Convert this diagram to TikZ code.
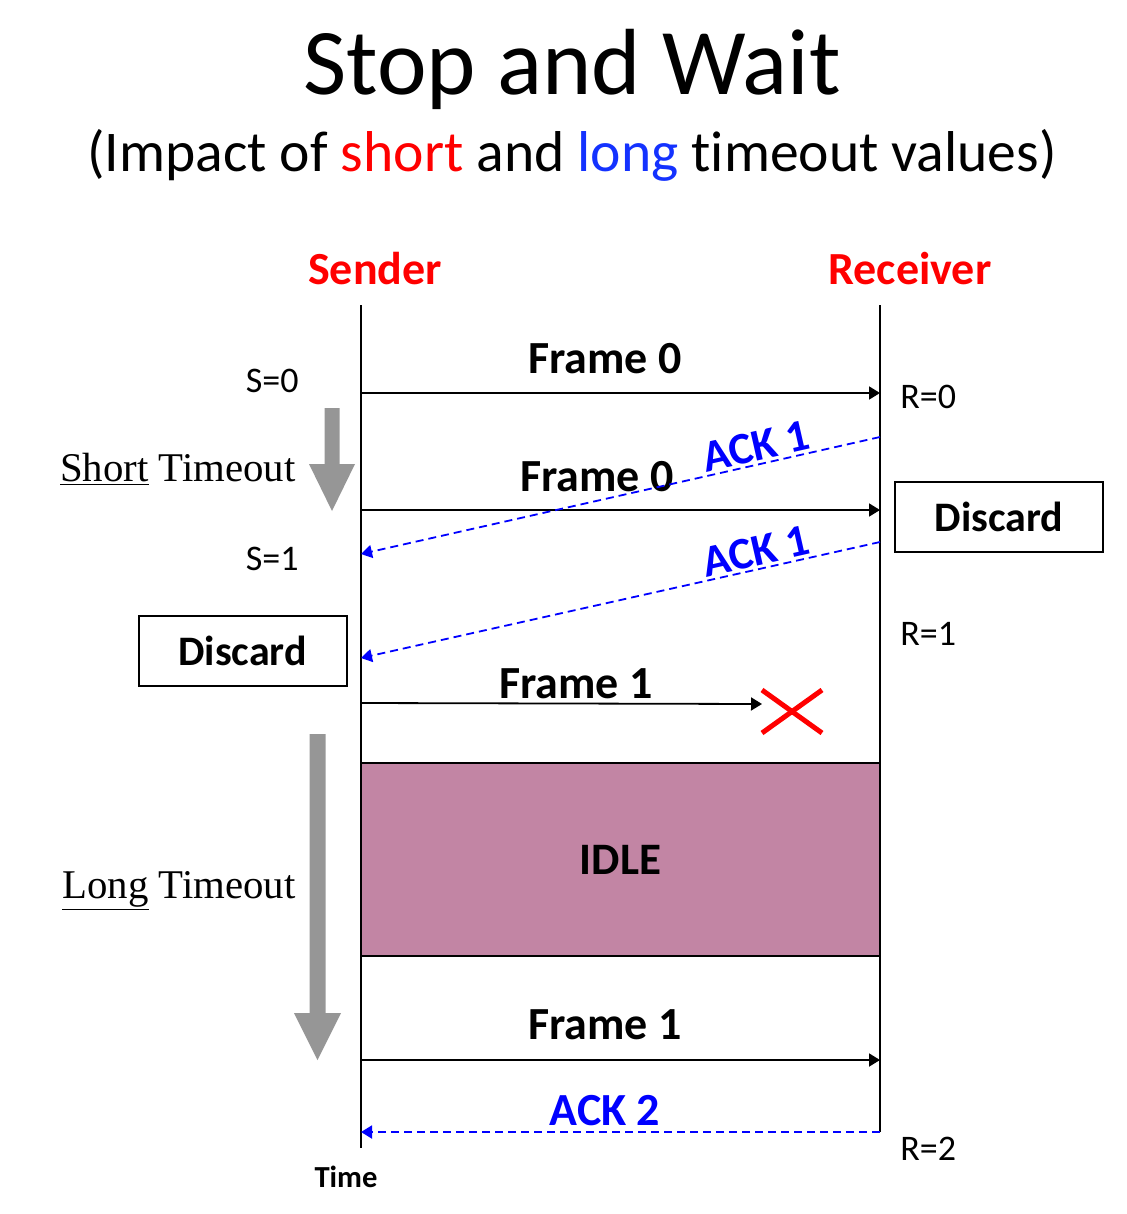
\documentclass[tikz,border=0pt]{standalone}
\usepackage{fontspec}
\setmainfont{Carlito}[Ligatures=NoCommon]
\newfontfamily\timesfont{Liberation Serif}
\usetikzlibrary{arrows.meta}
\definecolor{senderred}{RGB}{255,0,0}
\definecolor{ackblue}{RGB}{0,0,255}
\definecolor{longblue}{RGB}{20,50,255}
\definecolor{idlecolor}{RGB}{194,133,164}
\definecolor{timeoutgray}{RGB}{150,150,150}

\begin{document}
\begin{tikzpicture}[x=0.5pt,y=-0.5pt,
    lifeline/.style={line width=1pt},
    framemsg/.style={-{Triangle[length=5.5pt,width=6.5pt]}, line width=0.9pt},
    ackmsg/.style={-{Triangle[length=5.5pt,width=6.5pt]}, ackblue, line width=0.9pt,
        dash pattern=on 4pt off 2.5pt},
    msglabel/.style={anchor=base, font=\fontsize{23}{27}\selectfont\bfseries},
    acklabel/.style={text=ackblue, inner sep=0pt, font=\fontsize{22.5}{27}\selectfont\bfseries},
    seqstate/.style={inner sep=0pt, font=\fontsize{18}{22}\selectfont},
    timeout/.style={anchor=base east, inner sep=0pt, font=\fontsize{20.4}{24}\selectfont\timesfont},
    discardbox/.style={draw, line width=1pt, minimum width=104pt, minimum height=35pt,
        font=\fontsize{21}{25}\selectfont\bfseries},
]
    \useasboundingbox (0,0) rectangle (1126,1214);

    % Title
    \node[anchor=base, font=\fontsize{47}{56}\selectfont] (title) at (572,95) {Stop and Wait};
    \node[anchor=base, font=\fontsize{28.8}{34}\selectfont] (subtitle) at (572,172)
        {(Impact of \textcolor{senderred}{short} and \textcolor{longblue}{long} timeout values)};

    % Sender and receiver
    \node[msglabel, text=senderred] (sender) at (375,285) {Sender};
    \node[msglabel, text=senderred] (receiver) at (910,285) {Receiver};
    \coordinate (sTop) at (361,305);
    \coordinate (sEnd) at (361,1148);
    \coordinate (rTop) at (880,305);
    \coordinate (rEnd) at (880,1132);
    \draw[lifeline] (sTop) -- (sEnd);
    \draw[lifeline] (rTop) -- (rEnd);

    % Message end points
    \coordinate (f0s) at (361,393);  \coordinate (f0r) at (880,393);
    \coordinate (f0bs) at (361,510); \coordinate (f0br) at (880,510);
    \coordinate (a1r) at (880,437);  \coordinate (a1s) at (361,554);
    \coordinate (a1br) at (880,542); \coordinate (a1bs) at (361,658);
    \coordinate (f1s) at (361,703);  \coordinate (f1lost) at (762,704);
    \coordinate (f1bs) at (361,1060); \coordinate (f1br) at (880,1060);
    \coordinate (a2r) at (880,1132); \coordinate (a2s) at (361,1132);

    % Frames
    \draw[framemsg] (f0s) -- (f0r);
    \draw[framemsg] (f0bs) -- (f0br);
    \draw[framemsg] (f1s) -- (f1lost);
    \draw[framemsg] (f1bs) -- (f1br);
    \node[msglabel] (frame0) at (605,373) {Frame 0};
    \node[msglabel] (frame0b) at (597,491) {Frame 0};
    \node[msglabel] (frame1) at (576,698) {Frame 1};
    \node[msglabel] (frame1b) at (605,1039) {Frame 1};

    % Acks
    \draw[ackmsg] (a1r) -- (a1s);
    \draw[ackmsg] (a1br) -- (a1bs);
    \draw[ackmsg] (a2r) -- (a2s);
    \node[acklabel, rotate=12.8] (ack1) at (756,446) {ACK 1};
    \node[acklabel, rotate=12.8] (ack1b) at (756,551) {ACK 1};
    \node[msglabel, text=ackblue] (ack2) at (605,1125) {ACK 2};

    % Lost frame
    \draw[senderred, line width=2.5pt] (762,690) -- (822,733);
    \draw[senderred, line width=2.5pt] (822,690) -- (762,733);

    % Sequence numbers
    \node[seqstate, anchor=base east] (s0) at (299,392) {S=0};
    \node[seqstate, anchor=base east] (s1) at (299,570) {S=1};
    \node[seqstate, anchor=base west] (r0) at (900,408) {R=0};
    \node[seqstate, anchor=base west] (r1) at (900,645) {R=1};
    \node[seqstate, anchor=base west] (r2) at (900,1160) {R=2};

    % Discard boxes
    \node[discardbox] (discardR) at (999,517) {Discard};
    \node[discardbox] (discardS) at (242.5,651) {Discard};

    % Idle period
    \node[draw, line width=1pt, fill=idlecolor, minimum width=259.5pt, minimum height=96.5pt,
        font=\fontsize{22.5}{27}\selectfont\bfseries] (idle) at (620.5,859.5) {IDLE};

    % Timeouts
    \fill[timeoutgray] (324.5,408) -- (339.5,408) -- (339.5,464) -- (355,464)
        -- (332,511) -- (309,464) -- (324.5,464) -- cycle;
    \fill[timeoutgray] (309.5,734) -- (325.5,734) -- (325.5,1013) -- (341,1013)
        -- (317.5,1060) -- (294,1013) -- (309.5,1013) -- cycle;
    \node[timeout] (short) at (296,481) {\underline{Short} Timeout};
    \node[timeout] (long) at (296,898) {\underline{Long} Timeout};

    % Time axis
    \node[anchor=base, font=\fontsize{15.3}{18}\selectfont\bfseries] (time) at (346,1187) {Time};
\end{tikzpicture}
\end{document}
